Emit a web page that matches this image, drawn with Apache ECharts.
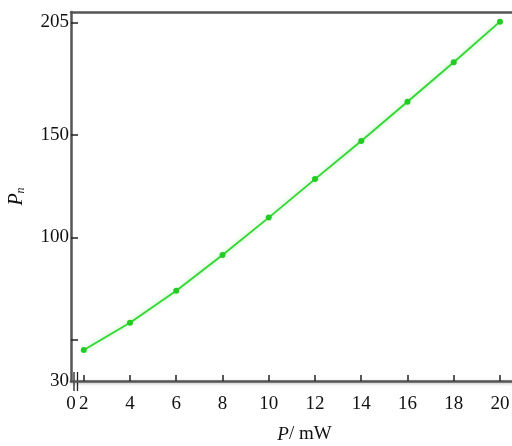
<!DOCTYPE html>
<html>
<head>
<meta charset="utf-8">
<script src="https://cdn.jsdelivr.net/npm/echarts@6/dist/echarts.min.js"></script>
<style>html,body{margin:0;padding:0;background:#fff}#c{width:512px;height:446px}</style>
</head>
<body>
<div id="c"></div>
<script>
// Data
const powerMW = [2, 4, 6, 8, 10, 12, 14, 16, 18, 20];
const pnValues = [45.1, 58.4, 74.0, 91.5, 109.7, 128.5, 147.1, 166.2, 185.5, 205.3];
const xTickLabels = [2, 4, 6, 8, 10, 12, 14, 16, 18, 20];
const yTickLabels = [30, 100, 150, 205];
const yTickMarks = [50, 100, 150, 205];

const X_MIN = 1.449, X_MAX = 20.52;
const Y_MIN = 30, Y_MAX = 210;
const FONT = 'Liberation Serif';
const AXC = '#555';

const chart = echarts.init(document.getElementById('c'), null, {renderer: 'canvas'});
const opt = {
  animation: false,
  backgroundColor: '#fff',
  grid: {left: 71, top: 12, right: 0, bottom: 65, containLabel: false, outerBoundsMode: 'none'},
  xAxis: [{
    type: 'value', min: X_MIN, max: X_MAX,
    splitLine: {show: false},
    axisLine: {show: true, lineStyle: {color: AXC, width: 2.5, shadowColor: 'rgba(0,0,0,0.25)', shadowBlur: 3, shadowOffsetY: 1}},
    axisTick: {show: true, inside: true, length: 6, customValues: xTickLabels, lineStyle: {color: '#222', width: 1.5}},
    axisLabel: {
      customValues: [X_MIN].concat(xTickLabels),
      formatter: v => (v < 1.9 ? '0' : String(Math.round(v))),
      fontFamily: FONT, fontSize: 19, color: '#111', margin: 14
    },
    name: '{i|P}/ mW', nameLocation: 'middle', nameGap: 44,
    nameTextStyle: {fontFamily: FONT, fontSize: 19, color: '#111', padding: [0, 0, 0, 26],
      rich: {i: {fontFamily: FONT, fontStyle: 'italic', fontSize: 19, color: '#111'}}}
  }, {
    type: 'value', min: X_MIN, max: X_MAX, position: 'top',
    splitLine: {show: false},
    axisLine: {show: true, lineStyle: {color: AXC, width: 2.5}},
    axisTick: {show: false}, axisLabel: {show: false}
  }],
  yAxis: {
    type: 'value', min: Y_MIN, max: Y_MAX,
    splitLine: {show: false},
    axisLine: {show: true, lineStyle: {color: AXC, width: 2.5}},
    axisTick: {show: true, inside: true, length: 7, customValues: yTickMarks, lineStyle: {color: '#222', width: 1.5}},
    axisLabel: {customValues: yTickLabels, fontFamily: FONT, fontSize: 19, color: '#111', margin: 2},
    name: '{i|P}{s|n}', nameLocation: 'middle', nameRotate: 90, nameGap: 44,
    nameTextStyle: {fontFamily: FONT, fontSize: 19, color: '#111',
      rich: {i: {fontFamily: FONT, fontStyle: 'italic', fontSize: 20, color: '#111'},
             s: {fontFamily: FONT, fontStyle: 'italic', fontSize: 12, color: '#111', verticalAlign: 'bottom', padding: [8, 0, 0, 0]}}}
  },
  series: [{
    type: 'line', xAxisIndex: 0,
    data: powerMW.map((x, i) => [x, pnValues[i]]),
    symbol: 'circle', symbolSize: 6,
    itemStyle: {color: '#22cc22'},
    lineStyle: {color: '#33d633', width: 1.8, shadowColor: 'rgba(0,210,0,0.35)', shadowBlur: 4}
  }]
};
chart.setOption(opt);

// axis break marks near origin
const o = chart.convertToPixel({xAxisIndex: 0, yAxisIndex: 0}, [X_MIN, Y_MIN]);
chart.setOption({
  graphic: [0, 1].map(k => ({
    type: 'line', silent: true,
    shape: {x1: o[0] + 3 + k * 3.5, y1: o[1] - 9, x2: o[0] + 3 + k * 3.5, y2: o[1] + 10},
    style: {stroke: '#222', lineWidth: 1.3}
  }))
});
</script>
</body>
</html>
